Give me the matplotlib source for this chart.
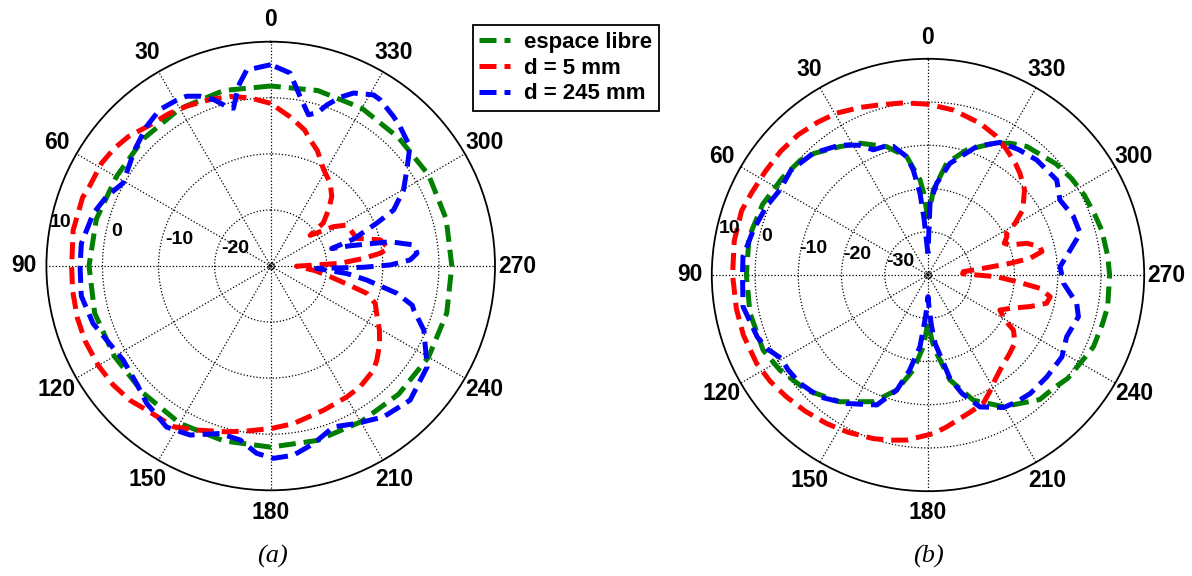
import numpy as np
import matplotlib
matplotlib.use("Agg")
import matplotlib.pyplot as plt
from matplotlib.lines import Line2D

# ---------------- data (angles in degrees, gain in dB) ----------------
# (a)
a_green_theta = [0, 15, 30, 45, 60, 75, 90, 105, 120, 135, 150, 165, 180, 195, 210, 225,
                 240, 255, 270, 285, 300, 315, 330, 345, 360]
a_green_val = [2.1, 2.4, 2.4, 2.1, 1.8, 2.2, 2.4, 2.5, 2.2, 2.1, 2.4, 2.3, 2.3, 2.2, 2.1, 2.3,
               2.5, 2.5, 2.3, 2.4, 2.5, 2.3, 2.5, 2.4, 2.1]

a_red_theta = [0, 7, 13.5, 20, 27.8, 34, 40.6, 47.7, 53, 58.7, 66.3, 70, 79.7, 90, 97, 105, 112,
               120, 127, 133.6, 139.3, 148.8, 155.7, 165.1, 172, 180, 188.2, 200.1, 210.2, 216.5,
               224.6, 228.4, 234, 239.5, 245.9, 250.3, 254.1, 256.5, 259.8, 264, 269.5, 272.2,
               274.7, 276.6, 278.5, 283.4, 287.8, 293, 298.3, 302.1, 304.8, 307.8, 309.3, 314.2,
               318.7, 324.3, 331.2, 338, 342.7, 346, 352.5, 360]
a_red_val = [-1.0, 0.2, 1.1, 1.6, 2.2, 2.7, 3.1, 4.3, 4.9, 5.3, 5.3, 5.7, 5.8, 5.5, 5.6, 5.7, 5.7,
             5.5, 5.2, 4.7, 3.9, 3.5, 2.1, 0.6, -0.3, -1.0, -1.6, -2.6, -3.0, -3.2,
             -3.9, -4.7, -6.0, -7.5, -9.3, -10.2, -12.2, -15.8, -19.2, -22.0, -25.4, -17.6,
             -13.4, -10.4, -8.75, -9.9, -13.9, -14.3, -14.6, -16.8, -19.3, -21.1, -17.9, -15.6,
             -13.5, -11.8, -10.4, -7.8, -6.4, -5.0, -3.2, -1.0]

a_blue_theta = [0, 7, 10.2, 13.3, 16, 19, 22.6, 26.4, 30, 35.4, 41.7, 49.5, 55, 60.7, 67.1, 73.5,
                83.2, 90, 99, 107.9, 114.3, 122.5, 131.2, 137.9, 147.1, 154.5, 163.2, 170, 175.7,
                180.8, 186.8, 193.5, 201.3, 208.7, 216.8, 226.1, 237.2, 247.3, 252.9, 254.5,
                257.8, 261.7, 264.3, 267, 269.2, 270.5, 272.5, 275, 278.4, 281.5, 284.3, 286,
                288, 292, 294.5, 299.8, 305.2, 310.6, 317.1, 320.6, 326.6, 329, 334.4, 337.5,
                340.8, 343, 346, 350.2, 354.3, 360]
a_blue_val = [5.9, 5.2, 2.6, -1.1, -0.2, 1.4, 2.8, 3.8, 4.0, 4.2, 3.3, 1.9, 0.9, 0.2, 1.8, 3.0,
              4.0, 4.0, 4.2, 3.3, 2.1, 1.2, 1.8, 3.0, 4.2, 3.4, 1.2, 1.5, 3.5,
              4.3, 4.0, 2.6, 0.8, 2.0, 3.6, 4.5, 3.2, -0.4, -3.3, -3.8,
              -7.0, -12.7, -16.3, -21.8, -13.5, -8.7, -5.1, -3.8, -4.25, -8.3, -15.4, -18.7,
              -14.5, -9.6, -5.9, -2.7, -0.3, 2.7, 3.9, 4.5, 5.5, 5.6, 4.2, 2.6,
              0.4, -1.4, -2.2, 0.7, 4.6, 5.9]

# (b)
b_green_theta = [0, 3, 4.8, 10.2, 17.9, 27.3, 34.4, 43, 48, 56.5, 66.9, 78, 90, 102, 114.5,
                 122.7, 133.5, 145.2, 156.7, 164.8, 171.2, 176.3, 180, 183.7, 186.3, 191.8,
                 199.9, 209.8, 221.9, 228, 233.5, 240.8, 246.6, 254.3, 260, 270, 276, 284.4,
                 290, 297, 304, 311, 322.4, 328.1, 333.6, 342.8, 350.5, 356.4, 360]
b_green_val = [-27, -21, -17.9, -12.2, -8.8, -5.7, -4.0, -1.5, -0.3, 0.5, 1.6, 2.3, 2.0, 2.1, 1.9,
               0.7, -1.3, -4.3, -8.1, -12.4, -17.8, -23.4, -29, -24.5, -21.8, -15.2,
               -9.2, -4.9, -1.3, -0.9, 0.2, 0.8, 1.7, 1.9, 2.2, 2.0, 1.8, 1.5,
               1.0, 0.6, 0.0, -0.8, -2.5, -4.1, -6.0, -9.7, -13.8, -20.3, -27]

b_blue_theta = [0, 2, 4, 5.6, 8, 10.2, 15.1, 19, 23.6, 28, 34.1, 43.3, 52.7, 60.1, 67, 75.5,
                84.3, 90, 99.7, 110, 115, 119.7, 124, 130.2, 138.4, 147.6, 158.5, 164.8,
                169, 173.6, 176.2, 178.5, 180, 182, 184, 186, 192, 196, 201.5, 209.8, 215,
                220.8, 229.4, 238.6, 246, 254.5, 259.2, 266.5, 273.6, 280, 285.3, 291.9,
                299.6, 306.4, 316.6, 324, 331.5, 339.2, 348.9, 354.6, 358.4, 360]
b_blue_val = [-35, -33, -27, -21, -15.5, -12.2, -9.2, -8.6, -8.4, -6.0, -3.7, -1.3, -0.1, -0.5,
              0.6, 1.7, 3.0, 2.9, 3.4, 2.0, 0.8, -1.0, -0.9, -1.2, -2.3, -4.8, -7.7, -12.4,
              -17.5, -23.3, -29.6, -33, -35, -32, -28, -24, -15.5, -11.5, -7.2, -4.7, -4.2,
              -3.8, -3.8, -3.7, -4.9, -3.9, -5.0, -8.6, -9.4, -6.6, -3.5, -3.75,
              -4.9, -3.0, -3.4, -4.2, -5.1, -8.2, -13.7, -18.7, -23.4, -35]

b_red_theta = [0, 8, 15.8, 22, 29.5, 36, 42.8, 50, 57.5, 65, 71, 80, 90, 100, 108, 117.3, 124,
               130.7, 138, 145.7, 153, 161.5, 167, 172.6, 181.9, 187, 192.6, 197, 203.3, 208,
               212.5, 218, 226, 232, 237.2, 239.7, 244, 247.9, 252.8, 256.6, 259.9, 263.2,
               265.7, 268.6, 272, 275.4, 276.9, 278.1, 279.3, 281.6, 284.2, 287.8, 290.1,
               292.6, 296, 298, 300.7, 304.5, 311.5, 317.9, 322, 327.8, 334, 341.1, 351.3, 360]
b_red_val = [-0.5, 0.2, 0.9, 1.8, 3.0, 3.6, 4.2, 4.5, 4.6, 5.0, 5.6, 5.5, 5.2, 5.0, 4.9, 4.6, 4.0,
             3.2, 2.4, 1.6, 0.8, -0.1, -0.8, -1.5, -3.3, -4.6, -6.0, -6.8, -7.7, -9.5,
             -11.2, -12.6, -13.8, -14.5, -16.5, -19.4, -21.5, -19.5, -15.3, -11.8, -11.3, -13.9,
             -19.4, -24.1, -32.0, -31.8, -27.1, -20.8, -16.1, -13.1, -13.3, -16.0, -19.8,
             -20.9, -19.7, -19.4, -16.6, -13.4, -10.2, -8.3, -7.2, -5.8, -4.2, -2.9, -1.4, -0.5]

angle_ticks = list(range(0, 360, 30))
legend_labels = ["espace libre", "d = 5 mm", "d = 245 mm"]

a_rings = [-20, -10, 0]
a_ring_labels = ["-20", "-10", "0", "10"]
a_ring_label_pos = [(63.2, -23.0), (74.0, -13.1), (77.5, -1.84), (78.4, 8.3)]
b_rings = [-30, -20, -10, 0]
b_ring_labels = ["-30", "-20", "-10", "0", "10"]
b_ring_label_pos = [(64.8, -32.8), (74.2, -23.0), (76.9, -12.8), (76.6, -1.6), (76.7, 7.1)]

# ---------------- styling ----------------
W, H = 1192, 576
fig = plt.figure(figsize=(W / 100, H / 100), dpi=100)
FONT = "Liberation Sans"
colors = {"green": "#007f00", "red": "#ff0000", "blue": "#0000ff"}
LW = 3.6
DASH = (3.4, 1.6)


def make_axes(cx, cy, R):
    return fig.add_axes([(cx - R) / W, (H - cy - R) / H, 2 * R / W, 2 * R / H],
                        projection="polar")


def setup(ax, rmin, rmax, rings, ring_labels, ring_pos):
    ax.set_theta_zero_location("N")
    ax.set_theta_direction(1)
    ax.set_ylim(rmin, rmax)
    ax.set_thetagrids(angle_ticks, labels=[""] * len(angle_ticks))
    ax.set_rgrids(rings, labels=[""] * len(rings))
    ax.grid(True, color="black", linestyle=(0, (1, 1.6)), linewidth=0.9)
    ax.spines["polar"].set_color("black")
    ax.spines["polar"].set_linewidth(1.3)
    ax.tick_params(length=0)
    rlab = rmin + 1.1 * (rmax - rmin)
    for t in angle_ticks:
        ax.text(np.deg2rad(t), rlab, str(t), ha="center", va="center",
                fontsize=16.5, fontweight="bold", family=FONT, clip_on=False)
    for lab, (t, r) in zip(ring_labels, ring_pos):
        ax.text(np.deg2rad(t), r, lab, ha="center", va="center",
                fontsize=14, fontweight="bold", family=FONT, clip_on=False, zorder=5)
    ax.plot([0], [rmin], marker="o", ms=4, mfc="none", mec="black", mew=0.8, zorder=4)


def curve(ax, th, val, col):
    ax.plot(np.deg2rad(th), val, color=colors[col], linewidth=LW,
            dashes=DASH, dash_capstyle="butt", solid_capstyle="butt", zorder=3)


axa = make_axes(270.7, 266.0, 224.3)
setup(axa, -30, 10, a_rings, a_ring_labels, a_ring_label_pos)
curve(axa, a_green_theta, a_green_val, "green")
curve(axa, a_red_theta, a_red_val, "red")
curve(axa, a_blue_theta, a_blue_val, "blue")

axb = make_axes(928.0, 275.0, 216.2)
setup(axb, -40, 10, b_rings, b_ring_labels, b_ring_label_pos)
curve(axb, b_green_theta, b_green_val, "green")
curve(axb, b_red_theta, b_red_val, "red")
curve(axb, b_blue_theta, b_blue_val, "blue")

# legend
handles = [Line2D([], [], color=colors[c], linewidth=LW, dashes=DASH, dash_capstyle="butt")
           for c in ["green", "red", "blue"]]
leg = fig.legend(handles, legend_labels, loc="upper left",
                 bbox_to_anchor=(472.7 / W, 1 - 25 / H), borderaxespad=0,
                 frameon=True, fancybox=False, edgecolor="black", framealpha=1,
                 prop={"family": FONT, "weight": "bold", "size": 16},
                 handlelength=1.4, handletextpad=0.6, labelspacing=0.22,
                 borderpad=0.3)
leg.get_frame().set_linewidth(1.3)

# sub captions
fig.text(272 / W, 1 - 556 / H, "(a)", ha="center", va="center", fontsize=19,
         style="italic", family="Liberation Serif")
fig.text(928 / W, 1 - 556 / H, "(b)", ha="center", va="center", fontsize=19,
         style="italic", family="Liberation Serif")

fig.savefig("out.png", dpi=100)
